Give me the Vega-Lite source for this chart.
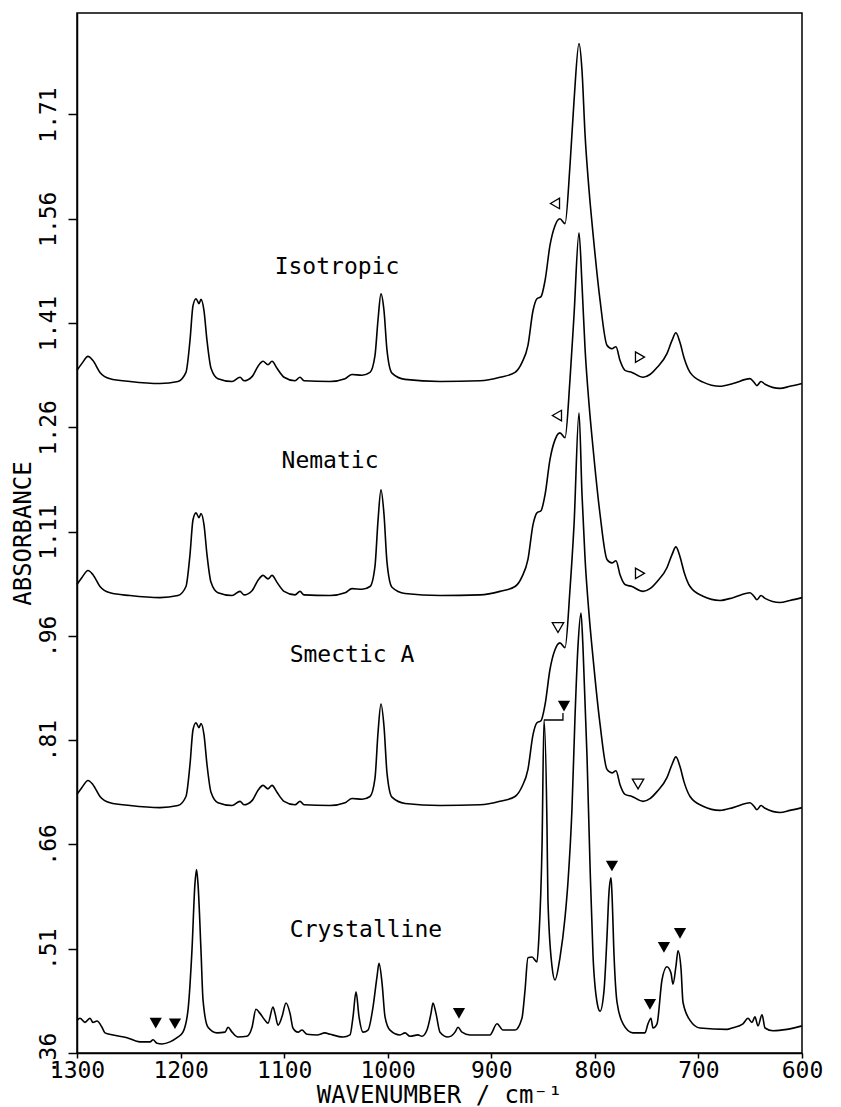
{
  "$schema": "https://vega.github.io/schema/vega-lite/v6.json",
  "width": 725,
  "height": 1040,
  "autosize": {"type": "none"},
  "padding": {"left": 77, "top": 13, "right": 39, "bottom": 54},
  "background": "white",
  "config": {
    "view": {"stroke": "black", "strokeWidth": 1.5},
    "font": "DejaVu Sans Mono",
    "axis": {"grid": false, "domainColor": "black", "domainWidth": 1.5, "tickColor": "black", "tickWidth": 1.5, "labelColor": "black", "titleColor": "black", "labelFont": "DejaVu Sans Mono", "titleFont": "DejaVu Sans Mono", "labelFontSize": 23, "titleFontSize": 24, "titleFontWeight": "normal"}
  },
  "datasets": {
    "spectra": [
      {"phase":"Isotropic","wavenumber":1300,"absorbance":1.342},{"phase":"Isotropic","wavenumber":1295.2,"absorbance":1.352},{"phase":"Isotropic","wavenumber":1289.4,"absorbance":1.362},{"phase":"Isotropic","wavenumber":1284.6,"absorbance":1.356},{"phase":"Isotropic","wavenumber":1277.8,"absorbance":1.339},{"phase":"Isotropic","wavenumber":1268.1,"absorbance":1.33},{"phase":"Isotropic","wavenumber":1248.8,"absorbance":1.326},{"phase":"Isotropic","wavenumber":1219.9,"absorbance":1.323},{"phase":"Isotropic","wavenumber":1202.5,"absorbance":1.326},{"phase":"Isotropic","wavenumber":1194.8,"absorbance":1.339},{"phase":"Isotropic","wavenumber":1190.9,"absorbance":1.385},{"phase":"Isotropic","wavenumber":1188.0,"absorbance":1.435},{"phase":"Isotropic","wavenumber":1185.1,"absorbance":1.445},{"phase":"Isotropic","wavenumber":1182.2,"absorbance":1.438},{"phase":"Isotropic","wavenumber":1180.3,"absorbance":1.444},{"phase":"Isotropic","wavenumber":1177.4,"absorbance":1.428},{"phase":"Isotropic","wavenumber":1174.5,"absorbance":1.385},{"phase":"Isotropic","wavenumber":1170.6,"absorbance":1.345},{"phase":"Isotropic","wavenumber":1163.9,"absorbance":1.33},{"phase":"Isotropic","wavenumber":1150.3,"absorbance":1.326},{"phase":"Isotropic","wavenumber":1142.6,"absorbance":1.332},{"phase":"Isotropic","wavenumber":1138.8,"absorbance":1.327},{"phase":"Isotropic","wavenumber":1131.0,"absorbance":1.333},{"phase":"Isotropic","wavenumber":1125.2,"absorbance":1.348},{"phase":"Isotropic","wavenumber":1120.4,"absorbance":1.355},{"phase":"Isotropic","wavenumber":1115.6,"absorbance":1.35},{"phase":"Isotropic","wavenumber":1111.7,"absorbance":1.355},{"phase":"Isotropic","wavenumber":1106.9,"absorbance":1.345},{"phase":"Isotropic","wavenumber":1100.1,"absorbance":1.332},{"phase":"Isotropic","wavenumber":1089.5,"absorbance":1.327},{"phase":"Isotropic","wavenumber":1084.7,"absorbance":1.332},{"phase":"Isotropic","wavenumber":1080.8,"absorbance":1.327},{"phase":"Isotropic","wavenumber":1055.7,"absorbance":1.326},{"phase":"Isotropic","wavenumber":1041.2,"absorbance":1.33},{"phase":"Isotropic","wavenumber":1034.5,"absorbance":1.336},{"phase":"Isotropic","wavenumber":1024.8,"absorbance":1.335},{"phase":"Isotropic","wavenumber":1017.1,"absorbance":1.339},{"phase":"Isotropic","wavenumber":1012.3,"absorbance":1.363},{"phase":"Isotropic","wavenumber":1009.4,"absorbance":1.414},{"phase":"Isotropic","wavenumber":1006.5,"absorbance":1.452},{"phase":"Isotropic","wavenumber":1003.6,"absorbance":1.428},{"phase":"Isotropic","wavenumber":1000.7,"absorbance":1.371},{"phase":"Isotropic","wavenumber":995.9,"absorbance":1.338},{"phase":"Isotropic","wavenumber":983.3,"absorbance":1.329},{"phase":"Isotropic","wavenumber":949.5,"absorbance":1.326},{"phase":"Isotropic","wavenumber":910.9,"absorbance":1.327},{"phase":"Isotropic","wavenumber":891.6,"absorbance":1.332},{"phase":"Isotropic","wavenumber":877.1,"absorbance":1.339},{"phase":"Isotropic","wavenumber":870.4,"absorbance":1.353},{"phase":"Isotropic","wavenumber":864.6,"absorbance":1.378},{"phase":"Isotropic","wavenumber":859.7,"absorbance":1.428},{"phase":"Isotropic","wavenumber":855.9,"absorbance":1.445},{"phase":"Isotropic","wavenumber":852.0,"absorbance":1.448},{"phase":"Isotropic","wavenumber":848.1,"absorbance":1.471},{"phase":"Isotropic","wavenumber":843.3,"absorbance":1.522},{"phase":"Isotropic","wavenumber":838.5,"absorbance":1.55},{"phase":"Isotropic","wavenumber":833.7,"absorbance":1.56},{"phase":"Isotropic","wavenumber":828.8,"absorbance":1.553},{"phase":"Isotropic","wavenumber":824.0,"absorbance":1.637},{"phase":"Isotropic","wavenumber":820.1,"absorbance":1.73},{"phase":"Isotropic","wavenumber":815.3,"absorbance":1.812},{"phase":"Isotropic","wavenumber":812.4,"absorbance":1.773},{"phase":"Isotropic","wavenumber":809.5,"absorbance":1.682},{"phase":"Isotropic","wavenumber":805.6,"absorbance":1.601},{"phase":"Isotropic","wavenumber":801.8,"absorbance":1.539},{"phase":"Isotropic","wavenumber":795.0,"absorbance":1.443},{"phase":"Isotropic","wavenumber":788.3,"absorbance":1.378},{"phase":"Isotropic","wavenumber":783.5,"absorbance":1.373},{"phase":"Isotropic","wavenumber":779.6,"absorbance":1.376},{"phase":"Isotropic","wavenumber":775.7,"absorbance":1.356},{"phase":"Isotropic","wavenumber":770.9,"absorbance":1.342},{"phase":"Isotropic","wavenumber":764.2,"absorbance":1.339},{"phase":"Isotropic","wavenumber":753.5,"absorbance":1.332},{"phase":"Isotropic","wavenumber":746.8,"absorbance":1.336},{"phase":"Isotropic","wavenumber":740.0,"absorbance":1.346},{"phase":"Isotropic","wavenumber":730.4,"absorbance":1.366},{"phase":"Isotropic","wavenumber":725.5,"absorbance":1.385},{"phase":"Isotropic","wavenumber":721.7,"absorbance":1.396},{"phase":"Isotropic","wavenumber":717.8,"absorbance":1.382},{"phase":"Isotropic","wavenumber":713.9,"absorbance":1.36},{"phase":"Isotropic","wavenumber":708.1,"absorbance":1.339},{"phase":"Isotropic","wavenumber":695.6,"absorbance":1.325},{"phase":"Isotropic","wavenumber":679.2,"absorbance":1.319},{"phase":"Isotropic","wavenumber":666.6,"absorbance":1.323},{"phase":"Isotropic","wavenumber":650.2,"absorbance":1.33},{"phase":"Isotropic","wavenumber":646.4,"absorbance":1.325},{"phase":"Isotropic","wavenumber":643.5,"absorbance":1.32},{"phase":"Isotropic","wavenumber":639.6,"absorbance":1.326},{"phase":"Isotropic","wavenumber":635.7,"absorbance":1.322},{"phase":"Isotropic","wavenumber":621.3,"absorbance":1.316},{"phase":"Isotropic","wavenumber":611.6,"absorbance":1.319},{"phase":"Isotropic","wavenumber":600,"absorbance":1.323},

      {"phase":"Nematic","wavenumber":1300,"absorbance":1.034},{"phase":"Nematic","wavenumber":1295.2,"absorbance":1.044},{"phase":"Nematic","wavenumber":1289.4,"absorbance":1.054},{"phase":"Nematic","wavenumber":1284.6,"absorbance":1.048},{"phase":"Nematic","wavenumber":1277.8,"absorbance":1.031},{"phase":"Nematic","wavenumber":1268.1,"absorbance":1.022},{"phase":"Nematic","wavenumber":1248.8,"absorbance":1.018},{"phase":"Nematic","wavenumber":1219.9,"absorbance":1.015},{"phase":"Nematic","wavenumber":1202.5,"absorbance":1.018},{"phase":"Nematic","wavenumber":1194.8,"absorbance":1.031},{"phase":"Nematic","wavenumber":1190.9,"absorbance":1.077},{"phase":"Nematic","wavenumber":1188.0,"absorbance":1.127},{"phase":"Nematic","wavenumber":1185.1,"absorbance":1.137},{"phase":"Nematic","wavenumber":1182.2,"absorbance":1.13},{"phase":"Nematic","wavenumber":1180.3,"absorbance":1.136},{"phase":"Nematic","wavenumber":1177.4,"absorbance":1.12},{"phase":"Nematic","wavenumber":1174.5,"absorbance":1.077},{"phase":"Nematic","wavenumber":1170.6,"absorbance":1.037},{"phase":"Nematic","wavenumber":1163.9,"absorbance":1.022},{"phase":"Nematic","wavenumber":1150.3,"absorbance":1.018},{"phase":"Nematic","wavenumber":1142.6,"absorbance":1.024},{"phase":"Nematic","wavenumber":1138.8,"absorbance":1.019},{"phase":"Nematic","wavenumber":1131.0,"absorbance":1.025},{"phase":"Nematic","wavenumber":1125.2,"absorbance":1.04},{"phase":"Nematic","wavenumber":1120.4,"absorbance":1.047},{"phase":"Nematic","wavenumber":1115.6,"absorbance":1.042},{"phase":"Nematic","wavenumber":1111.7,"absorbance":1.047},{"phase":"Nematic","wavenumber":1106.9,"absorbance":1.037},{"phase":"Nematic","wavenumber":1100.1,"absorbance":1.024},{"phase":"Nematic","wavenumber":1089.5,"absorbance":1.019},{"phase":"Nematic","wavenumber":1084.7,"absorbance":1.024},{"phase":"Nematic","wavenumber":1080.8,"absorbance":1.019},{"phase":"Nematic","wavenumber":1055.7,"absorbance":1.018},{"phase":"Nematic","wavenumber":1041.2,"absorbance":1.022},{"phase":"Nematic","wavenumber":1034.5,"absorbance":1.028},{"phase":"Nematic","wavenumber":1024.8,"absorbance":1.027},{"phase":"Nematic","wavenumber":1017.1,"absorbance":1.031},{"phase":"Nematic","wavenumber":1012.3,"absorbance":1.06},{"phase":"Nematic","wavenumber":1009.4,"absorbance":1.125},{"phase":"Nematic","wavenumber":1006.5,"absorbance":1.17},{"phase":"Nematic","wavenumber":1003.6,"absorbance":1.135},{"phase":"Nematic","wavenumber":1000.7,"absorbance":1.066},{"phase":"Nematic","wavenumber":995.9,"absorbance":1.03},{"phase":"Nematic","wavenumber":983.3,"absorbance":1.021},{"phase":"Nematic","wavenumber":949.5,"absorbance":1.018},{"phase":"Nematic","wavenumber":910.9,"absorbance":1.019},{"phase":"Nematic","wavenumber":891.6,"absorbance":1.024},{"phase":"Nematic","wavenumber":877.1,"absorbance":1.031},{"phase":"Nematic","wavenumber":870.4,"absorbance":1.045},{"phase":"Nematic","wavenumber":864.6,"absorbance":1.07},{"phase":"Nematic","wavenumber":859.7,"absorbance":1.12},{"phase":"Nematic","wavenumber":855.9,"absorbance":1.137},{"phase":"Nematic","wavenumber":852.0,"absorbance":1.14},{"phase":"Nematic","wavenumber":848.1,"absorbance":1.163},{"phase":"Nematic","wavenumber":843.3,"absorbance":1.214},{"phase":"Nematic","wavenumber":838.5,"absorbance":1.242},{"phase":"Nematic","wavenumber":833.7,"absorbance":1.252},{"phase":"Nematic","wavenumber":828.8,"absorbance":1.245},{"phase":"Nematic","wavenumber":824.0,"absorbance":1.329},{"phase":"Nematic","wavenumber":820.1,"absorbance":1.422},{"phase":"Nematic","wavenumber":815.3,"absorbance":1.54},{"phase":"Nematic","wavenumber":812.4,"absorbance":1.465},{"phase":"Nematic","wavenumber":809.5,"absorbance":1.374},{"phase":"Nematic","wavenumber":805.6,"absorbance":1.293},{"phase":"Nematic","wavenumber":801.8,"absorbance":1.231},{"phase":"Nematic","wavenumber":795.0,"absorbance":1.135},{"phase":"Nematic","wavenumber":788.3,"absorbance":1.07},{"phase":"Nematic","wavenumber":783.5,"absorbance":1.065},{"phase":"Nematic","wavenumber":779.6,"absorbance":1.068},{"phase":"Nematic","wavenumber":775.7,"absorbance":1.048},{"phase":"Nematic","wavenumber":770.9,"absorbance":1.034},{"phase":"Nematic","wavenumber":764.2,"absorbance":1.031},{"phase":"Nematic","wavenumber":753.5,"absorbance":1.024},{"phase":"Nematic","wavenumber":746.8,"absorbance":1.028},{"phase":"Nematic","wavenumber":740.0,"absorbance":1.038},{"phase":"Nematic","wavenumber":730.4,"absorbance":1.058},{"phase":"Nematic","wavenumber":725.5,"absorbance":1.077},{"phase":"Nematic","wavenumber":721.7,"absorbance":1.088},{"phase":"Nematic","wavenumber":717.8,"absorbance":1.074},{"phase":"Nematic","wavenumber":713.9,"absorbance":1.052},{"phase":"Nematic","wavenumber":708.1,"absorbance":1.031},{"phase":"Nematic","wavenumber":695.6,"absorbance":1.017},{"phase":"Nematic","wavenumber":679.2,"absorbance":1.011},{"phase":"Nematic","wavenumber":666.6,"absorbance":1.015},{"phase":"Nematic","wavenumber":650.2,"absorbance":1.022},{"phase":"Nematic","wavenumber":646.4,"absorbance":1.017},{"phase":"Nematic","wavenumber":643.5,"absorbance":1.012},{"phase":"Nematic","wavenumber":639.6,"absorbance":1.018},{"phase":"Nematic","wavenumber":635.7,"absorbance":1.014},{"phase":"Nematic","wavenumber":621.3,"absorbance":1.008},{"phase":"Nematic","wavenumber":611.6,"absorbance":1.011},{"phase":"Nematic","wavenumber":600,"absorbance":1.015},

      {"phase":"Smectic A","wavenumber":1300,"absorbance":0.732},{"phase":"Smectic A","wavenumber":1295.2,"absorbance":0.742},{"phase":"Smectic A","wavenumber":1289.4,"absorbance":0.752},{"phase":"Smectic A","wavenumber":1284.6,"absorbance":0.746},{"phase":"Smectic A","wavenumber":1277.8,"absorbance":0.729},{"phase":"Smectic A","wavenumber":1268.1,"absorbance":0.72},{"phase":"Smectic A","wavenumber":1248.8,"absorbance":0.716},{"phase":"Smectic A","wavenumber":1219.9,"absorbance":0.713},{"phase":"Smectic A","wavenumber":1202.5,"absorbance":0.716},{"phase":"Smectic A","wavenumber":1194.8,"absorbance":0.729},{"phase":"Smectic A","wavenumber":1190.9,"absorbance":0.775},{"phase":"Smectic A","wavenumber":1188.0,"absorbance":0.825},{"phase":"Smectic A","wavenumber":1185.1,"absorbance":0.835},{"phase":"Smectic A","wavenumber":1182.2,"absorbance":0.828},{"phase":"Smectic A","wavenumber":1180.3,"absorbance":0.834},{"phase":"Smectic A","wavenumber":1177.4,"absorbance":0.818},{"phase":"Smectic A","wavenumber":1174.5,"absorbance":0.775},{"phase":"Smectic A","wavenumber":1170.6,"absorbance":0.735},{"phase":"Smectic A","wavenumber":1163.9,"absorbance":0.72},{"phase":"Smectic A","wavenumber":1150.3,"absorbance":0.716},{"phase":"Smectic A","wavenumber":1142.6,"absorbance":0.722},{"phase":"Smectic A","wavenumber":1138.8,"absorbance":0.717},{"phase":"Smectic A","wavenumber":1131.0,"absorbance":0.723},{"phase":"Smectic A","wavenumber":1125.2,"absorbance":0.738},{"phase":"Smectic A","wavenumber":1120.4,"absorbance":0.745},{"phase":"Smectic A","wavenumber":1115.6,"absorbance":0.74},{"phase":"Smectic A","wavenumber":1111.7,"absorbance":0.745},{"phase":"Smectic A","wavenumber":1106.9,"absorbance":0.735},{"phase":"Smectic A","wavenumber":1100.1,"absorbance":0.722},{"phase":"Smectic A","wavenumber":1089.5,"absorbance":0.717},{"phase":"Smectic A","wavenumber":1084.7,"absorbance":0.722},{"phase":"Smectic A","wavenumber":1080.8,"absorbance":0.717},{"phase":"Smectic A","wavenumber":1055.7,"absorbance":0.716},{"phase":"Smectic A","wavenumber":1041.2,"absorbance":0.72},{"phase":"Smectic A","wavenumber":1034.5,"absorbance":0.726},{"phase":"Smectic A","wavenumber":1024.8,"absorbance":0.725},{"phase":"Smectic A","wavenumber":1017.1,"absorbance":0.729},{"phase":"Smectic A","wavenumber":1012.3,"absorbance":0.755},{"phase":"Smectic A","wavenumber":1009.4,"absorbance":0.82},{"phase":"Smectic A","wavenumber":1006.5,"absorbance":0.862},{"phase":"Smectic A","wavenumber":1003.6,"absorbance":0.83},{"phase":"Smectic A","wavenumber":1000.7,"absorbance":0.763},{"phase":"Smectic A","wavenumber":995.9,"absorbance":0.728},{"phase":"Smectic A","wavenumber":983.3,"absorbance":0.719},{"phase":"Smectic A","wavenumber":949.5,"absorbance":0.716},{"phase":"Smectic A","wavenumber":910.9,"absorbance":0.717},{"phase":"Smectic A","wavenumber":891.6,"absorbance":0.722},{"phase":"Smectic A","wavenumber":877.1,"absorbance":0.729},{"phase":"Smectic A","wavenumber":870.4,"absorbance":0.743},{"phase":"Smectic A","wavenumber":864.6,"absorbance":0.768},{"phase":"Smectic A","wavenumber":859.7,"absorbance":0.818},{"phase":"Smectic A","wavenumber":855.9,"absorbance":0.835},{"phase":"Smectic A","wavenumber":852.0,"absorbance":0.838},{"phase":"Smectic A","wavenumber":848.1,"absorbance":0.861},{"phase":"Smectic A","wavenumber":843.3,"absorbance":0.912},{"phase":"Smectic A","wavenumber":838.5,"absorbance":0.94},{"phase":"Smectic A","wavenumber":833.7,"absorbance":0.95},{"phase":"Smectic A","wavenumber":828.8,"absorbance":0.943},{"phase":"Smectic A","wavenumber":824.0,"absorbance":1.027},{"phase":"Smectic A","wavenumber":820.1,"absorbance":1.12},{"phase":"Smectic A","wavenumber":815.3,"absorbance":1.281},{"phase":"Smectic A","wavenumber":812.4,"absorbance":1.163},{"phase":"Smectic A","wavenumber":809.5,"absorbance":1.072},{"phase":"Smectic A","wavenumber":805.6,"absorbance":0.991},{"phase":"Smectic A","wavenumber":801.8,"absorbance":0.929},{"phase":"Smectic A","wavenumber":795.0,"absorbance":0.833},{"phase":"Smectic A","wavenumber":788.3,"absorbance":0.768},{"phase":"Smectic A","wavenumber":783.5,"absorbance":0.763},{"phase":"Smectic A","wavenumber":779.6,"absorbance":0.766},{"phase":"Smectic A","wavenumber":775.7,"absorbance":0.746},{"phase":"Smectic A","wavenumber":770.9,"absorbance":0.732},{"phase":"Smectic A","wavenumber":764.2,"absorbance":0.729},{"phase":"Smectic A","wavenumber":753.5,"absorbance":0.722},{"phase":"Smectic A","wavenumber":746.8,"absorbance":0.726},{"phase":"Smectic A","wavenumber":740.0,"absorbance":0.736},{"phase":"Smectic A","wavenumber":730.4,"absorbance":0.756},{"phase":"Smectic A","wavenumber":725.5,"absorbance":0.775},{"phase":"Smectic A","wavenumber":721.7,"absorbance":0.786},{"phase":"Smectic A","wavenumber":717.8,"absorbance":0.772},{"phase":"Smectic A","wavenumber":713.9,"absorbance":0.75},{"phase":"Smectic A","wavenumber":708.1,"absorbance":0.729},{"phase":"Smectic A","wavenumber":695.6,"absorbance":0.715},{"phase":"Smectic A","wavenumber":679.2,"absorbance":0.709},{"phase":"Smectic A","wavenumber":666.6,"absorbance":0.713},{"phase":"Smectic A","wavenumber":650.2,"absorbance":0.72},{"phase":"Smectic A","wavenumber":646.4,"absorbance":0.715},{"phase":"Smectic A","wavenumber":643.5,"absorbance":0.71},{"phase":"Smectic A","wavenumber":639.6,"absorbance":0.716},{"phase":"Smectic A","wavenumber":635.7,"absorbance":0.712},{"phase":"Smectic A","wavenumber":621.3,"absorbance":0.706},{"phase":"Smectic A","wavenumber":611.6,"absorbance":0.709},{"phase":"Smectic A","wavenumber":600,"absorbance":0.713},

      {"phase":"Crystalline","wavenumber":1300,"absorbance":0.407},{"phase":"Crystalline","wavenumber":1297.1,"absorbance":0.41},{"phase":"Crystalline","wavenumber":1292.3,"absorbance":0.404},{"phase":"Crystalline","wavenumber":1287.4,"absorbance":0.41},{"phase":"Crystalline","wavenumber":1284.6,"absorbance":0.404},{"phase":"Crystalline","wavenumber":1280.7,"absorbance":0.406},{"phase":"Crystalline","wavenumber":1275.9,"absorbance":0.397},{"phase":"Crystalline","wavenumber":1273.0,"absorbance":0.389},{"phase":"Crystalline","wavenumber":1265.2,"absorbance":0.386},{"phase":"Crystalline","wavenumber":1251.7,"absorbance":0.382},{"phase":"Crystalline","wavenumber":1239.2,"absorbance":0.376},{"phase":"Crystalline","wavenumber":1229.5,"absorbance":0.376},{"phase":"Crystalline","wavenumber":1226.6,"absorbance":0.379},{"phase":"Crystalline","wavenumber":1222.8,"absorbance":0.374},{"phase":"Crystalline","wavenumber":1217.9,"absorbance":0.373},{"phase":"Crystalline","wavenumber":1210.2,"absorbance":0.376},{"phase":"Crystalline","wavenumber":1203.4,"absorbance":0.382},{"phase":"Crystalline","wavenumber":1197.7,"absorbance":0.39},{"phase":"Crystalline","wavenumber":1192.8,"absorbance":0.422},{"phase":"Crystalline","wavenumber":1189.0,"absorbance":0.508},{"phase":"Crystalline","wavenumber":1186.1,"absorbance":0.604},{"phase":"Crystalline","wavenumber":1184.6,"absorbance":0.624},{"phase":"Crystalline","wavenumber":1183.2,"absorbance":0.604},{"phase":"Crystalline","wavenumber":1180.3,"absorbance":0.508},{"phase":"Crystalline","wavenumber":1178.3,"absorbance":0.436},{"phase":"Crystalline","wavenumber":1173.5,"absorbance":0.397},{"phase":"Crystalline","wavenumber":1164.8,"absorbance":0.389},{"phase":"Crystalline","wavenumber":1157.1,"absorbance":0.39},{"phase":"Crystalline","wavenumber":1154.2,"absorbance":0.397},{"phase":"Crystalline","wavenumber":1150.3,"absorbance":0.39},{"phase":"Crystalline","wavenumber":1144.6,"absorbance":0.383},{"phase":"Crystalline","wavenumber":1135.9,"absorbance":0.384},{"phase":"Crystalline","wavenumber":1131.0,"absorbance":0.397},{"phase":"Crystalline","wavenumber":1127.2,"absorbance":0.423},{"phase":"Crystalline","wavenumber":1123.3,"absorbance":0.417},{"phase":"Crystalline","wavenumber":1118.5,"absorbance":0.407},{"phase":"Crystalline","wavenumber":1115.6,"absorbance":0.403},{"phase":"Crystalline","wavenumber":1110.8,"absorbance":0.426},{"phase":"Crystalline","wavenumber":1108.8,"absorbance":0.417},{"phase":"Crystalline","wavenumber":1105.9,"absorbance":0.4},{"phase":"Crystalline","wavenumber":1102.1,"absorbance":0.412},{"phase":"Crystalline","wavenumber":1098.2,"absorbance":0.432},{"phase":"Crystalline","wavenumber":1094.3,"absorbance":0.417},{"phase":"Crystalline","wavenumber":1091.5,"absorbance":0.396},{"phase":"Crystalline","wavenumber":1086.6,"absorbance":0.39},{"phase":"Crystalline","wavenumber":1082.8,"absorbance":0.393},{"phase":"Crystalline","wavenumber":1077.9,"absorbance":0.387},{"phase":"Crystalline","wavenumber":1068.3,"absorbance":0.386},{"phase":"Crystalline","wavenumber":1060.6,"absorbance":0.389},{"phase":"Crystalline","wavenumber":1055.7,"absorbance":0.387},{"phase":"Crystalline","wavenumber":1043.2,"absorbance":0.383},{"phase":"Crystalline","wavenumber":1036.4,"absorbance":0.386},{"phase":"Crystalline","wavenumber":1033.5,"absorbance":0.412},{"phase":"Crystalline","wavenumber":1030.6,"absorbance":0.448},{"phase":"Crystalline","wavenumber":1027.7,"absorbance":0.412},{"phase":"Crystalline","wavenumber":1023.9,"absorbance":0.39},{"phase":"Crystalline","wavenumber":1019.0,"absorbance":0.393},{"phase":"Crystalline","wavenumber":1014.2,"absorbance":0.426},{"phase":"Crystalline","wavenumber":1010.4,"absorbance":0.469},{"phase":"Crystalline","wavenumber":1008.4,"absorbance":0.489},{"phase":"Crystalline","wavenumber":1005.5,"absorbance":0.461},{"phase":"Crystalline","wavenumber":1002.6,"absorbance":0.412},{"phase":"Crystalline","wavenumber":997.8,"absorbance":0.393},{"phase":"Crystalline","wavenumber":988.1,"absorbance":0.386},{"phase":"Crystalline","wavenumber":983.3,"absorbance":0.389},{"phase":"Crystalline","wavenumber":978.5,"absorbance":0.384},{"phase":"Crystalline","wavenumber":970.8,"absorbance":0.386},{"phase":"Crystalline","wavenumber":966.9,"absorbance":0.384},{"phase":"Crystalline","wavenumber":962.1,"absorbance":0.393},{"phase":"Crystalline","wavenumber":958.2,"absorbance":0.417},{"phase":"Crystalline","wavenumber":956.3,"absorbance":0.432},{"phase":"Crystalline","wavenumber":953.4,"absorbance":0.417},{"phase":"Crystalline","wavenumber":949.5,"absorbance":0.39},{"phase":"Crystalline","wavenumber":941.8,"absorbance":0.383},{"phase":"Crystalline","wavenumber":935.0,"absorbance":0.39},{"phase":"Crystalline","wavenumber":932.1,"absorbance":0.397},{"phase":"Crystalline","wavenumber":928.3,"absorbance":0.39},{"phase":"Crystalline","wavenumber":920.6,"absorbance":0.386},{"phase":"Crystalline","wavenumber":910.9,"absorbance":0.386},{"phase":"Crystalline","wavenumber":901.3,"absorbance":0.386},{"phase":"Crystalline","wavenumber":894.5,"absorbance":0.402},{"phase":"Crystalline","wavenumber":888.7,"absorbance":0.393},{"phase":"Crystalline","wavenumber":877.1,"absorbance":0.393},{"phase":"Crystalline","wavenumber":870.4,"absorbance":0.41},{"phase":"Crystalline","wavenumber":867.5,"absorbance":0.449},{"phase":"Crystalline","wavenumber":864.6,"absorbance":0.497},{"phase":"Crystalline","wavenumber":860.7,"absorbance":0.498},{"phase":"Crystalline","wavenumber":855.9,"absorbance":0.491},{"phase":"Crystalline","wavenumber":854.0,"absorbance":0.527},{"phase":"Crystalline","wavenumber":851.0,"absorbance":0.658},{"phase":"Crystalline","wavenumber":849.1,"absorbance":0.839},{"phase":"Crystalline","wavenumber":846.2,"absorbance":0.685},{"phase":"Crystalline","wavenumber":845.3,"absorbance":0.58},{"phase":"Crystalline","wavenumber":841.4,"absorbance":0.485},{"phase":"Crystalline","wavenumber":838.5,"absorbance":0.465},{"phase":"Crystalline","wavenumber":833.7,"absorbance":0.497},{"phase":"Crystalline","wavenumber":828.8,"absorbance":0.555},{"phase":"Crystalline","wavenumber":825.9,"absorbance":0.607},{"phase":"Crystalline","wavenumber":822.1,"absorbance":0.711},{"phase":"Crystalline","wavenumber":819.2,"absorbance":0.842},{"phase":"Crystalline","wavenumber":816.3,"absorbance":0.945},{"phase":"Crystalline","wavenumber":813.4,"absorbance":0.993},{"phase":"Crystalline","wavenumber":811.5,"absorbance":0.945},{"phase":"Crystalline","wavenumber":807.6,"absorbance":0.788},{"phase":"Crystalline","wavenumber":804.7,"absorbance":0.632},{"phase":"Crystalline","wavenumber":801.8,"absorbance":0.501},{"phase":"Crystalline","wavenumber":797.9,"absorbance":0.433},{"phase":"Crystalline","wavenumber":795.0,"absorbance":0.42},{"phase":"Crystalline","wavenumber":791.2,"absorbance":0.449},{"phase":"Crystalline","wavenumber":788.3,"absorbance":0.527},{"phase":"Crystalline","wavenumber":786.4,"absorbance":0.59},{"phase":"Crystalline","wavenumber":784.4,"absorbance":0.612},{"phase":"Crystalline","wavenumber":783.5,"absorbance":0.59},{"phase":"Crystalline","wavenumber":781.5,"absorbance":0.501},{"phase":"Crystalline","wavenumber":778.6,"absorbance":0.433},{"phase":"Crystalline","wavenumber":772.8,"absorbance":0.402},{"phase":"Crystalline","wavenumber":763.2,"absorbance":0.389},{"phase":"Crystalline","wavenumber":751.6,"absorbance":0.389},{"phase":"Crystalline","wavenumber":748.7,"absorbance":0.402},{"phase":"Crystalline","wavenumber":745.8,"absorbance":0.41},{"phase":"Crystalline","wavenumber":743.9,"absorbance":0.396},{"phase":"Crystalline","wavenumber":740.0,"absorbance":0.402},{"phase":"Crystalline","wavenumber":735.2,"absorbance":0.465},{"phase":"Crystalline","wavenumber":730.4,"absorbance":0.484},{"phase":"Crystalline","wavenumber":726.5,"absorbance":0.475},{"phase":"Crystalline","wavenumber":724.6,"absorbance":0.459},{"phase":"Crystalline","wavenumber":721.7,"absorbance":0.485},{"phase":"Crystalline","wavenumber":719.7,"absorbance":0.507},{"phase":"Crystalline","wavenumber":716.8,"absorbance":0.481},{"phase":"Crystalline","wavenumber":714.9,"absorbance":0.433},{"phase":"Crystalline","wavenumber":708.1,"absorbance":0.407},{"phase":"Crystalline","wavenumber":698.5,"absorbance":0.396},{"phase":"Crystalline","wavenumber":672.4,"absorbance":0.394},{"phase":"Crystalline","wavenumber":667.6,"absorbance":0.396},{"phase":"Crystalline","wavenumber":657.0,"absorbance":0.402},{"phase":"Crystalline","wavenumber":652.2,"absorbance":0.41},{"phase":"Crystalline","wavenumber":648.3,"absorbance":0.404},{"phase":"Crystalline","wavenumber":645.4,"absorbance":0.412},{"phase":"Crystalline","wavenumber":642.5,"absorbance":0.399},{"phase":"Crystalline","wavenumber":638.6,"absorbance":0.415},{"phase":"Crystalline","wavenumber":635.7,"absorbance":0.396},{"phase":"Crystalline","wavenumber":628.0,"absorbance":0.392},{"phase":"Crystalline","wavenumber":614.5,"absorbance":0.394},{"phase":"Crystalline","wavenumber":600,"absorbance":0.399}
    ],
    "crystalBands": [
      {"phase":"Crystalline","wavenumber":1224.0,"absorbance":0.403},
      {"phase":"Crystalline","wavenumber":1205.4,"absorbance":0.402},
      {"phase":"Crystalline","wavenumber":931.2,"absorbance":0.417},
      {"phase":"Crystalline","wavenumber":783.5,"absorbance":0.629},
      {"phase":"Crystalline","wavenumber":746.8,"absorbance":0.43},
      {"phase":"Crystalline","wavenumber":733.3,"absorbance":0.512},
      {"phase":"Crystalline","wavenumber":717.8,"absorbance":0.532},
      {"phase":"Smectic A","wavenumber":829.8,"absorbance":0.859}
    ],
    "liquidBands": [
      {"phase":"Isotropic","band":"845","wavenumber":838.5,"absorbance":1.582},
      {"phase":"Isotropic","band":"760","wavenumber":756.4,"absorbance":1.361},
      {"phase":"Nematic","band":"845","wavenumber":836.6,"absorbance":1.277},
      {"phase":"Nematic","band":"760","wavenumber":756.4,"absorbance":1.05},
      {"phase":"Smectic A","band":"845","wavenumber":835.6,"absorbance":0.972},
      {"phase":"Smectic A","band":"760","wavenumber":758.3,"absorbance":0.747}
    ],
    "leader": [
      {"step":1,"wavenumber":849.1,"absorbance":0.839},
      {"step":2,"wavenumber":830.8,"absorbance":0.839},
      {"step":3,"wavenumber":830.8,"absorbance":0.849}
    ],
    "phaseLabels": [
      {"phase":"Isotropic","wavenumber":1049,"absorbance":1.491},
      {"phase":"Nematic","wavenumber":1055.7,"absorbance":1.211},
      {"phase":"Smectic A","wavenumber":1034.5,"absorbance":0.932},
      {"phase":"Crystalline","wavenumber":1021,"absorbance":0.537}
    ]
  },
  "encoding": {
    "x": {
      "field": "wavenumber", "type": "quantitative",
      "scale": {"domain": [600, 1300], "reverse": true, "nice": false, "zero": false},
      "axis": {"values": [1300, 1200, 1100, 1000, 900, 800, 700, 600], "format": "d", "tickSize": 5, "labelPadding": 1, "labelAngle": 0, "labelAlign": "center", "labelBaseline": "top", "labelFlush": false, "labelOverlap": false, "title": "WAVENUMBER  / cm⁻¹", "titleAnchor": "middle", "titleAlign": "center", "titleBaseline": "alphabetic", "titleX": 362, "titleY": 49}
    },
    "y": {
      "field": "absorbance", "type": "quantitative",
      "scale": {"domain": [0.36, 1.856], "nice": false, "zero": false},
      "axis": {"values": [0.36, 0.51, 0.66, 0.81, 0.96, 1.11, 1.26, 1.41, 1.56, 1.71], "labelExpr": "datum.value >= 1 ? format(datum.value, '.2f') : replace(format(datum.value, '.2f'), '0.', '.')", "tickSize": 9, "labelPadding": 13, "labelAngle": 270, "labelAlign": "center", "labelBaseline": "alphabetic", "labelFlush": false, "labelOverlap": false, "title": "ABSORBANCE", "titleAngle": 270, "titleAlign": "center", "titleBaseline": "alphabetic", "titleX": -47, "titleY": 520}
    }
  },
  "layer": [
    {
      "data": {"name": "spectra"},
      "mark": {"type": "line", "color": "black", "strokeWidth": 1.6, "strokeJoin": "round", "interpolate": "monotone"},
      "encoding": {"detail": {"field": "phase"}}
    },
    {
      "data": {"name": "leader"},
      "mark": {"type": "line", "color": "black", "strokeWidth": 1.3},
      "encoding": {"order": {"field": "step"}}
    },
    {
      "data": {"name": "crystalBands"},
      "mark": {"type": "point", "shape": "triangle-down", "filled": true, "color": "black", "size": 150, "opacity": 1}
    },
    {
      "data": {"name": "liquidBands"},
      "transform": [{"filter": "datum.phase !== 'Smectic A' && datum.band === '845'"}],
      "mark": {"type": "point", "shape": "triangle-left", "filled": false, "color": "black", "size": 110, "strokeWidth": 1.3, "opacity": 1}
    },
    {
      "data": {"name": "liquidBands"},
      "transform": [{"filter": "datum.phase !== 'Smectic A' && datum.band === '760'"}],
      "mark": {"type": "point", "shape": "triangle-right", "filled": false, "color": "black", "size": 110, "strokeWidth": 1.3, "opacity": 1}
    },
    {
      "data": {"name": "liquidBands"},
      "transform": [{"filter": "datum.phase === 'Smectic A'"}],
      "mark": {"type": "point", "shape": "triangle-down", "filled": false, "color": "black", "size": 130, "strokeWidth": 1.3, "opacity": 1}
    },
    {
      "data": {"name": "phaseLabels"},
      "mark": {"type": "text", "font": "DejaVu Sans Mono", "fontSize": 23, "align": "center", "baseline": "middle", "color": "black"},
      "encoding": {"text": {"field": "phase"}}
    }
  ]
}
